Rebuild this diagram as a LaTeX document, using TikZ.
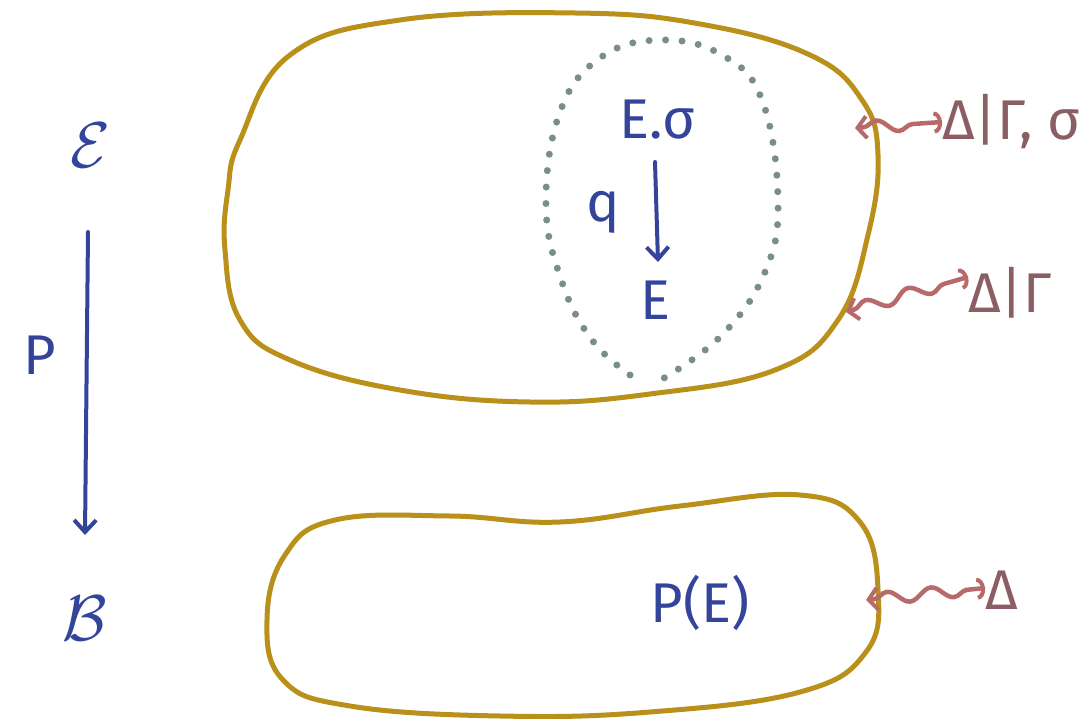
\documentclass[tikz,border=0pt]{standalone}
\usepackage{fontspec}
\setmainfont{Fira Sans}
\usetikzlibrary{arrows.meta,decorations.pathmorphing}
\definecolor{gold}{HTML}{B8901A}
\definecolor{ink}{HTML}{34449A}
\definecolor{dotc}{HTML}{7A8C8C}
\definecolor{wave}{HTML}{B86A6A}
\definecolor{lab}{HTML}{8A5E62}
\tikzset{
  blob/.style={draw=gold,line width=5pt},
  txt/.style={text=ink,font=\fontsize{56}{60}\selectfont,inner sep=0pt},
  scr/.style={text=ink,font=\Huge,inner sep=0pt,scale=2.6},
  labtxt/.style={text=lab,font=\fontsize{56}{60}\selectfont,inner sep=0pt,anchor=west},
  mapto/.style={draw=ink,line width=4pt,line cap=round,-{Straight Barb[length=12pt,width=22pt,line width=4pt]}},
  squig/.style={draw=wave,line width=4.5pt,line cap=round,
    decorate,decoration={snake,amplitude=6pt,segment length=44pt,pre length=8pt,post length=10pt},
    {Straight Barb[length=9pt,width=22pt,line width=4pt]}-{Arc Barb[length=8pt,width=22pt,line width=4pt]}},
}
\begin{document}
\begin{tikzpicture}[x=1pt,y=-1pt]
\useasboundingbox (0,0) rectangle (1089,719);
% big blob
\draw[blob] plot[smooth cycle,tension=0.7] coordinates{
 (240,140) (290,55) (400,20) (575,13) (700,24) (810,55) (862,100) (878,155)
 (868,235) (838,320) (775,370) (650,394) (530,402) (400,390) (290,360)
 (240,320) (225,250) (228,190)};
% bottom blob
\draw[blob] plot[smooth cycle,tension=0.7] coordinates{
 (285,555) (335,520) (450,516) (560,522) (680,506) (800,495) (860,522)
 (878,590) (866,652) (800,692) (650,712) (500,716) (350,706) (283,680) (267,620)};
% dotted teardrop
\draw[dotc,line width=7pt,line cap=round,dash pattern=on 0pt off 16.5pt]
  plot[smooth,tension=0.7] coordinates{
  (630,375) (592,340) (562,282) (546,205) (560,112) (600,58) (660,40)
  (722,55) (762,100) (778,200) (765,272) (722,335) (664,378)};
% left column
\node[scr] (cE) at (90,145) {$\mathcal{E}$};
\node[scr] (cB) at (85,618) {$\mathcal{B}$};
\node[txt] (pl) at (40,355) {P};
\coordinate (ptop) at (88,232);
\coordinate (pbot) at (85,535);
\draw[mapto] (ptop) -- (pbot);
% inner
\node[txt] (Es) at (657,120) {E.σ};
\node[txt] (E) at (655,300) {E};
\node[txt] (q) at (603,212) {q};
\coordinate (qtop) at (655,162);
\coordinate (qbot) at (658,262);
\draw[mapto] (qtop) -- (qbot);
\node[txt] (PE) at (700,603) {P(E)};
% right labels
\coordinate (s1) at (855,128);
\node[labtxt] (l1) at (942,122) {Δ|Γ, σ};
\draw[squig] (s1) -- (l1.west);
\coordinate (s2) at (846,312);
\node[labtxt] (l2) at (968,293) {Δ|Γ};
\draw[squig] (s2) -- ([yshift=16pt]l2.west);
\coordinate (s3) at (866,600);
\node[labtxt] (l3) at (985,590) {Δ};
\draw[squig] (s3) -- ([yshift=2pt]l3.west);
\end{tikzpicture}
\end{document}
